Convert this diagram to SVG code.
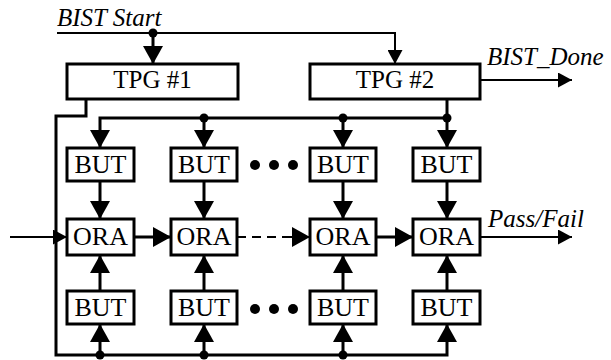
<svg xmlns="http://www.w3.org/2000/svg" width="611" height="360" viewBox="0 0 611 360">
<style>
.box{fill:#fff;stroke:#000;stroke-width:3}
.lbl{font-family:"Liberation Serif","Times New Roman",serif;font-size:26px;fill:#000;text-anchor:middle}
.it{font-family:"Liberation Serif","Times New Roman",serif;font-size:25px;font-style:italic;fill:#000}
.w{fill:none;stroke:#000;stroke-width:3}
.t{fill:none;stroke:#000;stroke-width:2}
.dot{fill:#000}
</style>
<defs>
<marker id="ah" markerUnits="userSpaceOnUse" markerWidth="18" markerHeight="20" viewBox="0 0 18 20" refX="18" refY="10" orient="auto"><path d="M0,0 L18,10 L0,20 Z" fill="#000"/></marker>
<marker id="as" markerUnits="userSpaceOnUse" markerWidth="14" markerHeight="15" viewBox="0 0 14 15" refX="14" refY="7.5" orient="auto"><path d="M0,0 L14,7.5 L0,15 Z" fill="#000"/></marker>
</defs>
<g id="connectors">
<path class="t" d="M57,33 H395 V64" marker-end="url(#as)"/>
<path class="w" d="M153,33 V64" marker-end="url(#ah)"/>
<path class="t" d="M480,80 H572" marker-end="url(#as)"/>
<path class="w" d="M86,99 V116 H56 V355 H447 V324" marker-end="url(#ah)"/>
<path class="w" d="M447,99 V148" marker-end="url(#ah)"/>
<path class="w" d="M447,118 H100 V148" marker-end="url(#ah)"/>
<path class="w" d="M204,118 V148" marker-end="url(#ah)"/>
<path class="w" d="M343,118 V148" marker-end="url(#ah)"/>
<path class="w" d="M100,181 V219" marker-end="url(#ah)"/>
<path class="w" d="M204,181 V219" marker-end="url(#ah)"/>
<path class="w" d="M343,181 V219" marker-end="url(#ah)"/>
<path class="w" d="M447,181 V219" marker-end="url(#ah)"/>
<path class="w" d="M100,291 V255" marker-end="url(#ah)"/>
<path class="w" d="M204,291 V255" marker-end="url(#ah)"/>
<path class="w" d="M343,291 V255" marker-end="url(#ah)"/>
<path class="w" d="M447,291 V255" marker-end="url(#ah)"/>
<path class="w" d="M100,355 V324" marker-end="url(#ah)"/>
<path class="w" d="M204,355 V324" marker-end="url(#ah)"/>
<path class="w" d="M343,355 V324" marker-end="url(#ah)"/>
<path class="t" d="M10,237 H67" marker-end="url(#as)"/>
<path class="w" d="M134,237 H171" marker-end="url(#ah)"/>
<path class="t" d="M237,237 H294" stroke-dasharray="9 6"/>
<path class="t" d="M290,237 H310" marker-end="url(#ah)"/>
<path class="w" d="M376,237 H413" marker-end="url(#ah)"/>
<path class="t" d="M480,237 H572" marker-end="url(#as)"/>
<circle class="dot" cx="153" cy="33" r="4.5"/>
<circle class="dot" cx="204" cy="118" r="4.5"/>
<circle class="dot" cx="343" cy="118" r="4.5"/>
<circle class="dot" cx="447" cy="118" r="4.5"/>
<circle class="dot" cx="100" cy="355" r="4.5"/>
<circle class="dot" cx="204" cy="355" r="4.5"/>
<circle class="dot" cx="343" cy="355" r="4.5"/>
</g>
<g id="labels">
<text class="it" x="57" y="26">BIST Start</text>
<text class="it" x="487" y="65">BIST_Done</text>
<text class="it" x="488" y="227">Pass/Fail</text>
</g>
<g id="ellipsis">
<circle class="dot" cx="255" cy="165" r="5"/><circle class="dot" cx="274" cy="165" r="5"/><circle class="dot" cx="293" cy="165" r="5"/>
<circle class="dot" cx="255" cy="309" r="5"/><circle class="dot" cx="274" cy="309" r="5"/><circle class="dot" cx="293" cy="309" r="5"/>
</g>
<g id="tpg1"><rect class="box" x="67" y="64" width="171" height="35"/><text class="lbl" x="152.5" y="88" style="font-size:25px">TPG #1</text></g>
<g id="tpg2"><rect class="box" x="310" y="64" width="170" height="35"/><text class="lbl" x="395" y="88" style="font-size:25px">TPG #2</text></g>
<g id="but1t"><rect class="box" x="67" y="148" width="67" height="33"/><text class="lbl" x="100.5" y="173">BUT</text></g>
<g id="but2t"><rect class="box" x="171" y="148" width="66" height="33"/><text class="lbl" x="204" y="173">BUT</text></g>
<g id="but3t"><rect class="box" x="310" y="148" width="66" height="33"/><text class="lbl" x="343" y="173">BUT</text></g>
<g id="but4t"><rect class="box" x="413" y="148" width="67" height="33"/><text class="lbl" x="446.5" y="173">BUT</text></g>
<g id="ora1"><rect class="box" x="67" y="219" width="67" height="36"/><text class="lbl" x="100.5" y="245">ORA</text></g>
<g id="ora2"><rect class="box" x="171" y="219" width="66" height="36"/><text class="lbl" x="204" y="245">ORA</text></g>
<g id="ora3"><rect class="box" x="310" y="219" width="66" height="36"/><text class="lbl" x="343" y="245">ORA</text></g>
<g id="ora4"><rect class="box" x="413" y="219" width="67" height="36"/><text class="lbl" x="446.5" y="245">ORA</text></g>
<g id="but1b"><rect class="box" x="67" y="291" width="67" height="33"/><text class="lbl" x="100.5" y="316">BUT</text></g>
<g id="but2b"><rect class="box" x="171" y="291" width="66" height="33"/><text class="lbl" x="204" y="316">BUT</text></g>
<g id="but3b"><rect class="box" x="310" y="291" width="66" height="33"/><text class="lbl" x="343" y="316">BUT</text></g>
<g id="but4b"><rect class="box" x="413" y="291" width="67" height="33"/><text class="lbl" x="446.5" y="316">BUT</text></g>
</svg>
